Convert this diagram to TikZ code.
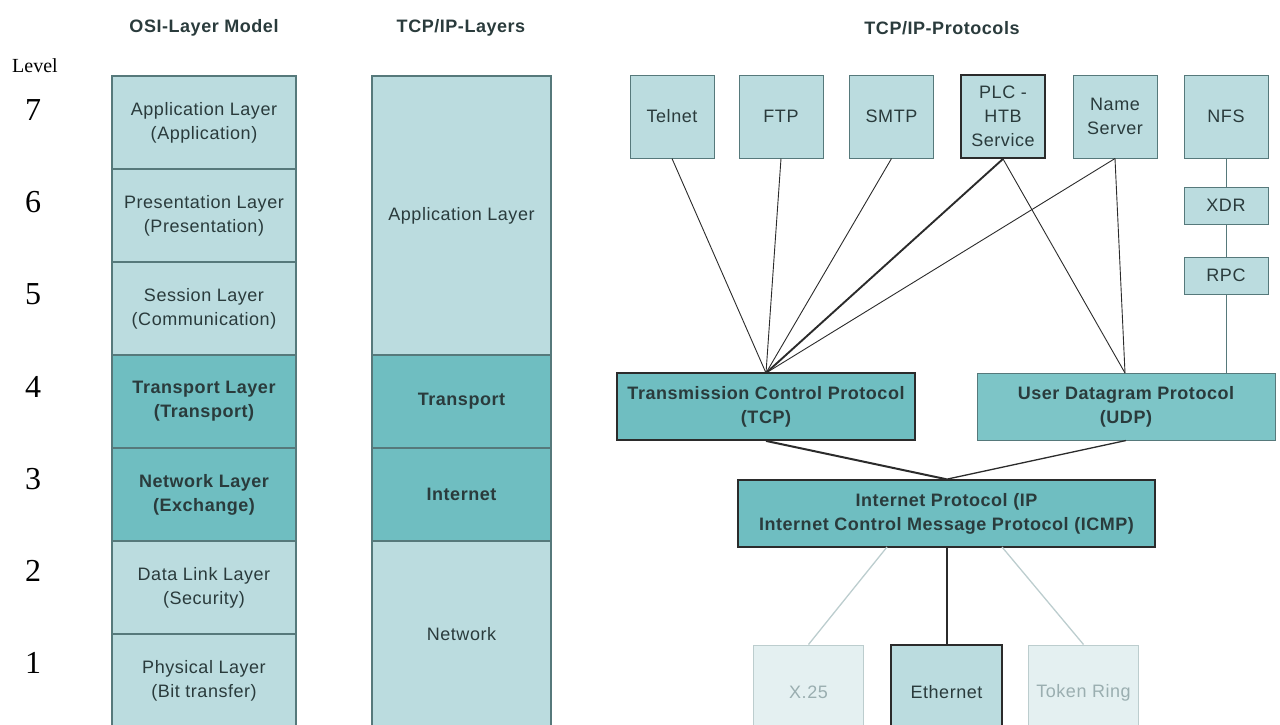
\documentclass[tikz,border=0pt]{standalone}
\usepackage{fontspec}
\setmainfont[LetterSpace=3]{Liberation Sans}
\newfontfamily\levelfont{Liberation Serif}
\usepackage{tikz}

\definecolor{cellLight}{HTML}{BBDCDF}
\definecolor{cellDark}{HTML}{6FBEC1}
\definecolor{cellLine}{HTML}{56797B}
\definecolor{textDark}{HTML}{2A3B3C}
\definecolor{paleFill}{HTML}{E4F0F1}
\definecolor{paleLine}{HTML}{BCCDCE}
\definecolor{paleText}{HTML}{9AAEB0}
\definecolor{wireDark}{HTML}{2B2B2B}

\begin{document}
\begin{tikzpicture}[x=1pt,y=-1pt,
    cell/.style={draw=cellLine, line width=1.2pt, fill=cellLight, minimum width=184pt, minimum height=93pt,
        inner sep=0pt, align=center, text=textDark, font=\fontsize{18}{24}\selectfont},
    cellbold/.style={cell, fill=cellDark, font=\fontsize{18}{24}\selectfont\bfseries},
    layer/.style={cell, minimum width=179pt},
    layerbold/.style={cellbold, minimum width=179pt},
    proto/.style={draw=cellLine, line width=1pt, fill=cellLight, minimum width=84pt, minimum height=83pt,
        inner sep=0pt, align=center, text=textDark, font=\fontsize{18}{24}\selectfont},
    small/.style={proto, minimum height=37pt},
    big/.style={draw=wireDark, line width=1.8pt, fill=cellDark, minimum width=298pt, minimum height=67pt,
        inner sep=0pt, align=center, text=textDark, font=\fontsize{18}{24}\selectfont\bfseries},
    link/.style={draw=paleLine, line width=1pt, fill=paleFill, minimum width=110pt, minimum height=95pt,
        inner sep=0pt, text=paleText, font=\fontsize{18}{24}\selectfont},
    header/.style={font=\fontsize{18}{24}\selectfont\bfseries, text=textDark},
    wire/.style={draw=wireDark, line width=0.9pt},
    palewire/.style={draw=paleLine, line width=1.3pt}]

    \useasboundingbox (0,0) rectangle (1280,724);

    % column headers
    \node[header] (osihead) at (204,28) {OSI-Layer Model};
    \node[header] (tcpiphead) at (461,28) {TCP/IP-Layers};
    \node[header] (protohead) at (942,28) {TCP/IP-Protocols};

    % level numbers
    \node[font=\levelfont\fontsize{20}{20}\selectfont] (level) at (35,66) {Level};
    \foreach \n in {1,...,7}
        \node[font=\levelfont\fontsize{32}{32}\selectfont] (lvl\n) at (33,{110+92.2*(7-\n)}) {\n};

    % OSI model
    \node[cell] (osiapp) at (204,122.5) {Application Layer\\(Application)};
    \node[cell] (osipres) at (204,215.5) {Presentation Layer\\(Presentation)};
    \node[cell] (osisess) at (204,308.5) {Session Layer\\(Communication)};
    \node[cellbold] (ositrans) at (204,401.5) {Transport Layer\\(Transport)};
    \node[cellbold] (osinet) at (204,494.5) {Network Layer\\(Exchange)};
    \node[cell] (osilink) at (204,587.5) {Data Link Layer\\(Security)};
    \node[cell] (osiphys) at (204,680.5) {Physical Layer\\(Bit transfer)};

    % TCP/IP layers
    \node[layer, minimum height=279pt] (ipapp) at (461.5,215.5) {Application Layer};
    \node[layerbold] (iptrans) at (461.5,401.5) {Transport};
    \node[layerbold] (ipinet) at (461.5,494.5) {Internet};
    \node[layer, minimum height=186pt] (ipnet) at (461.5,634) {Network};

    % application protocols
    \node[proto] (telnet) at (672,116.5) {Telnet};
    \node[proto] (ftp) at (781,116.5) {FTP};
    \node[proto] (smtp) at (891.5,116.5) {SMTP};
    \node[proto, draw=wireDark, line width=1.8pt] (plc) at (1003,116.5) {PLC -\\HTB\\Service};
    \node[proto] (names) at (1115,116.5) {Name\\Server};
    \node[proto] (nfs) at (1226,116.5) {NFS};
    \node[small] (xdr) at (1226,205.5) {XDR};
    \node[small] (rpc) at (1226,275.5) {RPC};

    % transport and internet protocols
    \node[big] (tcp) at (766,406.5) {Transmission Control Protocol\\(TCP)};
    \node[big, draw=cellLine, line width=1pt, fill=cellDark!90!white] (udp) at (1126,406.5) {User Datagram Protocol\\(UDP)};
    \node[big, line width=1.5pt, minimum width=417pt] (ip) at (946.5,513.5) {Internet Protocol (IP\\Internet Control Message Protocol (ICMP)};

    % network access
    \node[link] (x25) at (808.5,692.5) {X.25};
    \node[proto, draw=wireDark, line width=2pt, minimum width=111pt, minimum height=95pt] (ether) at (946.5,692.5) {Ethernet};
    \node[link] (token) at (1083.5,692.5) {Token Ring};

    % connectors
    \coordinate (tcpjoin) at (766,373);
    \coordinate (udpjoin) at (1125,373);
    \coordinate (ipleft) at (887,547);
    \coordinate (ipright) at (1002,547);

    \draw[wire] (telnet.south) -- (tcpjoin);
    \draw[wire] (ftp.south) -- (tcpjoin);
    \draw[wire] (smtp.south) -- (tcpjoin);
    \draw[wire, line width=1.9pt] (plc.south) -- (tcpjoin);
    \draw[wire] (names.south) -- (tcpjoin);
    \draw[wire] (plc.south) -- (udpjoin);
    \draw[wire] (names.south) -- (udpjoin);
    \draw[wire, draw=cellLine] (nfs.south) -- (xdr.north);
    \draw[wire, draw=cellLine] (xdr.south) -- (rpc.north);
    \draw[wire, draw=cellLine] (rpc.south) -- (rpc.south |- udp.north);
    \draw[wire, line width=2pt] (tcp.south) -- (ip.north);
    \draw[wire, line width=1.3pt] (udp.south) -- (ip.north);
    \draw[wire, line width=2pt] (ip.south) -- (ether.north);
    \draw[palewire] (ipleft) -- (x25.north);
    \draw[palewire] (ipright) -- (token.north);
\end{tikzpicture}
\end{document}
